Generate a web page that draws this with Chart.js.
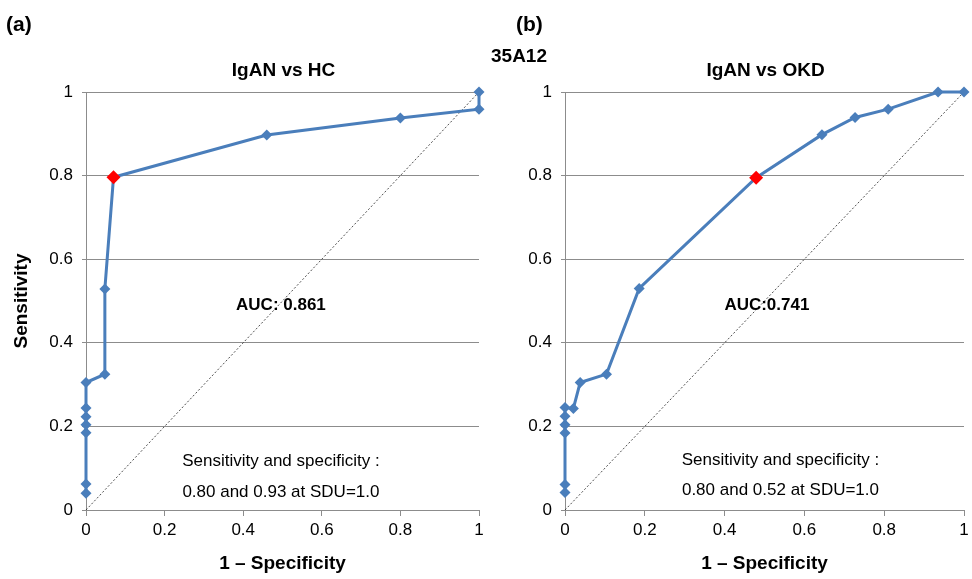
<!DOCTYPE html>
<html>
<head>
<meta charset="utf-8">
<script src="https://cdn.jsdelivr.net/npm/chart.js@4.4.1/dist/chart.umd.min.js"></script>
<style>
  body { margin: 0; background: #fff; font-family: "Liberation Sans", Arial, sans-serif; }
  #wrap { position: relative; width: 972px; height: 579px; }
  canvas { position: absolute; top: 0; }
  #chartA { left: 0; }
  #chartB { left: 486px; }
  .lbl { position: absolute; font-weight: bold; color: #000; white-space: nowrap; }
</style>
</head>
<body>
<div id="wrap">
  <canvas id="chartA" width="486" height="579"></canvas>
  <canvas id="chartB" width="486" height="579"></canvas>
  <div class="lbl" style="left:6px; top:12px; font-size:21px;">(a)</div>
  <div class="lbl" style="left:516px; top:12px; font-size:21px;">(b)</div>
  <div class="lbl" style="left:491px; top:45px; font-size:19px;">35A12</div>
</div>
<script>
// IgAN vs HC (1 - specificity, sensitivity)
const hcFpr = [0, 0, 0, 0, 0, 0, 0, 0.048, 0.048, 0.07, 0.46, 0.80, 1, 1];
const hcTpr = [0.04, 0.062, 0.185, 0.204, 0.223, 0.244, 0.305, 0.325, 0.529, 0.796, 0.897, 0.938, 0.959, 1];
const hcCut = 9;

// IgAN vs OKD
const okdFpr = [0, 0, 0, 0, 0, 0, 0.021, 0.038, 0.104, 0.186, 0.479, 0.644, 0.727, 0.81, 0.935, 1];
const okdTpr = [0.042, 0.061, 0.184, 0.204, 0.224, 0.245, 0.243, 0.305, 0.325, 0.53, 0.795, 0.898, 0.939, 0.959, 1, 1];
const okdCut = 10;

const axisTicks = [0, 0.2, 0.4, 0.6, 0.8, 1];
const tickText = ["0", "0.2", "0.4", "0.6", "0.8", "1"];

const FONT = "'Liberation Sans', Arial, sans-serif";
const BLUE = "#4a7ebb";
const GRID = "#8c8c8c";

// title above the plot and text drawn at data positions inside it
function notesPlugin(title, notes) {
  return {
    id: "notes",
    afterDraw(chart) {
      const ctx = chart.ctx;
      const xs = chart.scales.x, ys = chart.scales.y;
      const area = chart.chartArea;
      ctx.save();
      ctx.fillStyle = "#000";
      ctx.textAlign = "center";
      ctx.textBaseline = "middle";
      ctx.font = "bold 19px " + FONT;
      ctx.fillText(title, (area.left + area.right) / 2 + 1, area.top - 21);
      notes.forEach(n => {
        ctx.font = (n.bold ? "bold " : "") + n.size + "px " + FONT;
        ctx.fillText(n.text, xs.getPixelForValue(n.x), ys.getPixelForValue(n.y));
      });
      ctx.restore();
    }
  };
}

function makeChart(id, fpr, tpr, cut, yWidth, padRight, showYTitle, title, notes) {
  const pts = fpr.map((x, i) => ({ x: x, y: tpr[i] }));
  const label = v => tickText[axisTicks.indexOf(v)] ?? "";
  return new Chart(document.getElementById(id), {
    type: "scatter",
    data: {
      datasets: [
        {
          data: [{ x: 0, y: 0 }, { x: 1, y: 1 }],
          showLine: true,
          borderColor: "#222",
          borderWidth: 0.8,
          borderDash: [2, 2],
          pointRadius: 0,
          clip: false,
          order: 3
        },
        {
          data: pts,
          showLine: true,
          borderColor: BLUE,
          borderWidth: 3,
          pointStyle: "rectRot",
          pointRadius: 5.5,
          pointBackgroundColor: BLUE,
          pointBorderColor: BLUE,
          pointBorderWidth: 0,
          clip: false,
          order: 2
        },
        {
          data: [pts[cut]],
          pointStyle: "rectRot",
          pointRadius: 7,
          pointBackgroundColor: "#ff0000",
          pointBorderColor: "#ff0000",
          pointBorderWidth: 0,
          clip: false,
          order: 1
        }
      ]
    },
    options: {
      responsive: false,
      animation: false,
      layout: { padding: { top: 92, right: padRight, left: 0, bottom: 0 } },
      plugins: { legend: { display: false }, tooltip: { enabled: false } },
      scales: {
        x: {
          type: "linear",
          min: 0, max: 1,
          afterBuildTicks: s => { s.ticks = axisTicks.map(v => ({ value: v })); },
          ticks: { color: "#000", font: { family: FONT, size: 17 }, padding: 4, maxRotation: 0, callback: label },
          grid: { drawOnChartArea: false, drawTicks: true, tickLength: 6, color: GRID },
          border: { color: GRID },
          title: { display: true, text: "1 – Specificity", color: "#000", font: { family: FONT, size: 19, weight: "bold" }, padding: { top: 8 } },
          afterFit: s => { s.height = 69; s.paddingRight = 0; s.paddingLeft = 0; }
        },
        y: {
          min: 0, max: 1,
          afterBuildTicks: s => { s.ticks = axisTicks.map(v => ({ value: v })); },
          ticks: { color: "#000", font: { family: FONT, size: 17 }, padding: 9, callback: label },
          grid: { color: GRID, tickLength: 4 },
          border: { color: GRID },
          title: { display: showYTitle, text: "Sensitivity", color: "#000", font: { family: FONT, size: 19, weight: "bold" }, padding: { top: 10, bottom: 0 } },
          afterFit: s => { s.width = yWidth; }
        }
      }
    },
    plugins: [notesPlugin(title, notes)]
  });
}

makeChart("chartA", hcFpr, hcTpr, hcCut, 86, 7, true, "IgAN vs HC", [
  { text: "AUC: 0.861", x: 0.496, y: 0.49, size: 17, bold: true },
  { text: "Sensitivity and specificity :", x: 0.496, y: 0.117, size: 17 },
  { text: "0.80 and 0.93 at SDU=1.0", x: 0.496, y: 0.043, size: 17 }
]);

makeChart("chartB", okdFpr, okdTpr, okdCut, 79, 8, false, "IgAN vs OKD", [
  { text: "AUC:0.741", x: 0.506, y: 0.49, size: 17, bold: true },
  { text: "Sensitivity and specificity :", x: 0.54, y: 0.12, size: 17 },
  { text: "0.80 and 0.52 at SDU=1.0", x: 0.54, y: 0.048, size: 17 }
]);
</script>
</body>
</html>
